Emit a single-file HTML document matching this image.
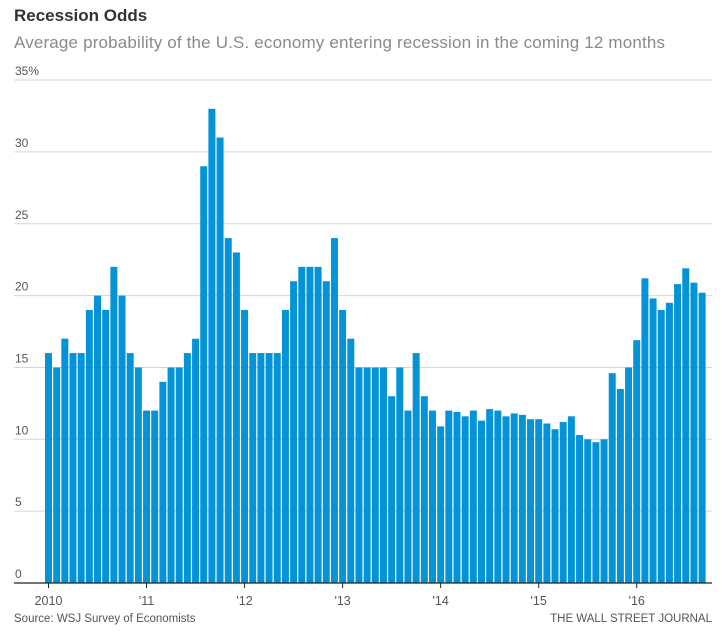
<!DOCTYPE html>
<html><head><meta charset="utf-8"><style>
body{margin:0;background:#fff;width:727px;height:640px;overflow:hidden;font-family:"Liberation Sans",sans-serif}
svg{display:block}
</style></head><body>
<svg id="chart" width="727" height="640" xmlns="http://www.w3.org/2000/svg">
<text x="14" y="21" font-size="17" font-weight="bold" fill="#333">Recession Odds</text>
<text x="14" y="48" font-size="17" fill="#8a8a8a" textLength="651" lengthAdjust="spacing">Average probability of the U.S. economy entering recession in the coming 12 months</text>
<g id="grid"></g><g id="bars"></g><g id="xaxis"></g>
<text x="14" y="622" font-size="11.5" fill="#555">Source: WSJ Survey of Economists</text>
<text x="712" y="622" font-size="11.5" fill="#555" text-anchor="end">THE WALL STREET JOURNAL</text>
</svg>
<script>
const values=[16,15,17,16,16,19,20,19,22,20,16,15,
12,12,14,15,15,16,17,29,33,31,24,23,
19,16,16,16,16,19,21,22,22,22,21,24,
19,17,15,15,15,15,13,15,12,16,13,12,
10.9,12.0,11.9,11.6,12.0,11.3,12.1,12.0,11.6,11.8,11.7,11.4,
11.4,11.1,10.7,11.2,11.6,10.3,10.0,9.8,10.0,14.6,13.5,15.0,
16.9,21.2,19.8,19.0,19.5,20.8,21.9,20.9,20.2];
const yTicks=[0,5,10,15,20,25,30,35];
const yTickLabels=['0','5','10','15','20','25','30','35%'];
const xTickLabels=['2010',"'11","'12","'13","'14","'15","'16"];
const NS='http://www.w3.org/2000/svg';
const y0=583,pxPerUnit=14.37,x0=48.5,pxPerMonth=8.17,bw=7;
function y(v){return y0-v*pxPerUnit;}
function x(i){return x0+i*pxPerMonth;}
function mk(t,a,p){const e=document.createElementNS(NS,t);for(const k in a)e.setAttribute(k,a[k]);p.appendChild(e);return e;}
const grid=document.getElementById('grid');
yTicks.forEach((t,k)=>{
  if(t>0){const l=mk('line',{x1:14,x2:712,y1:y(t),y2:y(t),stroke:'#d6d6d6','stroke-width':1},grid);
  
  }
  const tx=mk('text',{x:15,y:y(t)-5,'font-size':12,fill:'#555'},grid);
  
  
  tx.textContent=yTickLabels[k];
});
const bars=document.getElementById('bars');
values.forEach((v,i)=>{
  const r=mk('rect',{x:x(i)-bw/2,y:y(v),width:bw,height:y0-y(v),fill:'#0593d7'},bars);
  
  
});
const xa=document.getElementById('xaxis');
const ax=mk('line',{x1:14,x2:712,y1:y0,y2:y0,stroke:'#222','stroke-width':1.2},xa);


xTickLabels.forEach((lab,k)=>{
  const xx=x(k*12);
  const tk=mk('line',{x1:xx,x2:xx,y1:y0,y2:y0+5,stroke:'#222','stroke-width':1},xa);
  
  
  const t=mk('text',{x:xx,y:605,'font-size':12.5,fill:'#555','text-anchor':'middle'},xa);
  
  
  t.textContent=lab;
});
</script>
</body></html>
